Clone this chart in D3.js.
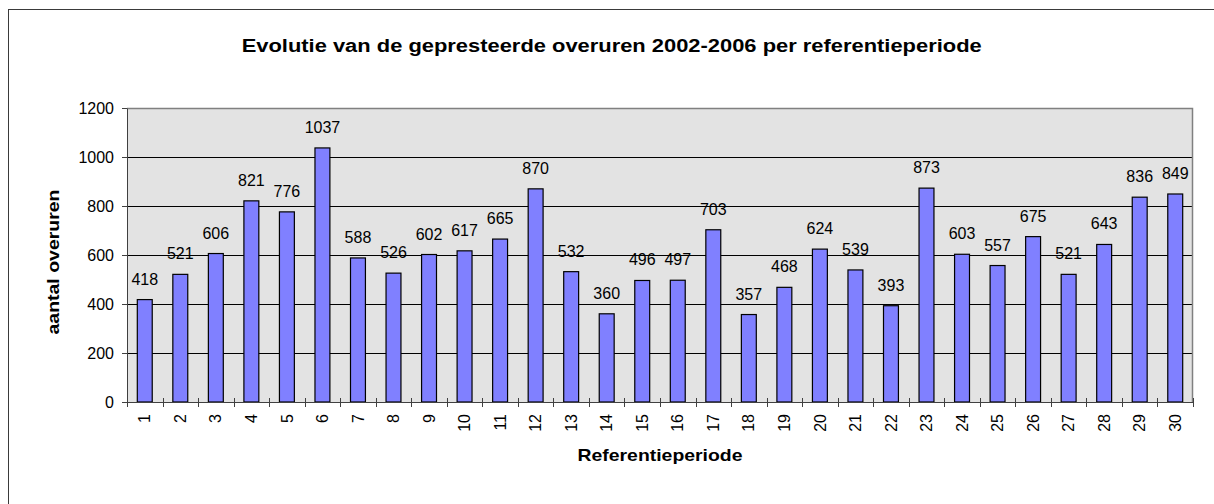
<!DOCTYPE html>
<html>
<head>
<meta charset="utf-8">
<script src="https://cdn.jsdelivr.net/npm/d3@7"></script>
<style>
  html, body { margin: 0; padding: 0; background: #fff; }
  svg { display: block; font-family: "Liberation Sans", Arial, sans-serif; }
</style>
</head>
<body>
<svg id="chart" width="1214" height="504"></svg>
<script>
const categories = ["1","2","3","4","5","6","7","8","9","10","11","12","13","14","15","16","17","18","19","20","21","22","23","24","25","26","27","28","29","30"];
const values = [418,521,606,821,776,1037,588,526,602,617,665,870,532,360,496,497,703,357,468,624,539,393,873,603,557,675,521,643,836,849];
const yTicks = [0,200,400,600,800,1000,1200];
const titleText = "Evolutie van de gepresteerde overuren 2002-2006 per referentieperiode";
const xTitle = "Referentieperiode";
const yTitle = "aantal overuren";

const svg = d3.select("#chart");
const plot = { left: 127, right: 1193, top: 108, bottom: 402 };

// outer frame
svg.append("rect").attr("x", 8.5).attr("y", 9.5).attr("width", 1230).attr("height", 520)
  .attr("fill", "#fff").attr("stroke", "#3a3a3a").attr("stroke-width", 1);

const x = d3.scaleBand().domain(categories).range([plot.left, plot.right]).paddingInner(0.58).paddingOuter(0.29);
const xCat = d3.scaleBand().domain(categories).range([plot.left, plot.right]);
const y = d3.scaleLinear().domain([0, 1200]).range([plot.bottom, plot.top]);

// plot background
svg.append("rect").attr("x", plot.left).attr("y", plot.top)
  .attr("width", plot.right - plot.left).attr("height", plot.bottom - plot.top)
  .attr("fill", "#e3e3e3");

// gridlines
svg.append("g").selectAll("line").data(yTicks.filter(d => d > 0 && d < 1200)).join("line")
  .attr("x1", plot.left).attr("x2", plot.right)
  .attr("y1", d => Math.round(y(d)) + 0.5).attr("y2", d => Math.round(y(d)) + 0.5)
  .attr("stroke", "#000").attr("stroke-width", 1);

// plot border (top/right gray)
svg.append("path")
  .attr("d", `M${plot.left},${plot.top + 0.5}H${plot.right - 0.5}V${plot.bottom}`)
  .attr("fill", "none").attr("stroke", "#808080").attr("stroke-width", 1.5);

// bars
svg.append("g").selectAll("rect").data(values).join("rect")
  .attr("x", (d, i) => x(categories[i]))
  .attr("width", x.bandwidth())
  .attr("y", d => y(d))
  .attr("height", d => plot.bottom - y(d))
  .attr("fill", "#8080ff").attr("stroke", "#000").attr("stroke-width", 1.2);

// value labels
svg.append("g").selectAll("text").data(values).join("text")
  .attr("x", (d, i) => x(categories[i]) + x.bandwidth() / 2)
  .attr("y", d => y(d) - 15)
  .attr("text-anchor", "middle")
  .attr("font-size", 16).attr("fill", "#000")
  .text(d => d);

// y axis
const yAxis = d3.axisLeft(y).tickValues(yTicks).tickFormat(d3.format("d")).tickSize(5).tickPadding(8).tickSizeOuter(0);
const gy = svg.append("g").attr("transform", `translate(${plot.left},0)`).call(yAxis);
gy.select(".domain").attr("stroke", "#404040");
gy.selectAll(".tick line").attr("stroke", "#404040");
gy.selectAll(".tick text").attr("font-size", 16).attr("fill", "#000")
  .attr("font-family", "Liberation Sans, Arial, sans-serif");

// x axis: ticks between categories
const gx = svg.append("g");
gx.append("line").attr("x1", plot.left).attr("x2", plot.right)
  .attr("y1", plot.bottom + 0.5).attr("y2", plot.bottom + 0.5).attr("stroke", "#404040");
gx.selectAll("line.t").data(d3.range(categories.length + 1)).join("line").attr("class", "t")
  .attr("x1", i => Math.round(plot.left + i * xCat.step()) + 0.5)
  .attr("x2", i => Math.round(plot.left + i * xCat.step()) + 0.5)
  .attr("y1", plot.bottom - 4).attr("y2", plot.bottom + 5)
  .attr("stroke", "#404040");
gx.selectAll("text").data(categories).join("text")
  .attr("transform", d => `translate(${xCat(d) + xCat.bandwidth() / 2},${plot.bottom + 12}) rotate(-90)`)
  .attr("text-anchor", "end").attr("dy", "0.35em")
  .attr("font-size", 16).attr("fill", "#000")
  .text(d => d);

// titles
svg.append("text").attr("x", 611.7).attr("y", 52)
  .attr("text-anchor", "middle").attr("font-weight", "bold").attr("font-size", 18)
  .attr("textLength", 740).attr("lengthAdjust", "spacingAndGlyphs")
  .text(titleText);

svg.append("text").attr("x", (plot.left + plot.right) / 2).attr("y", 461)
  .attr("text-anchor", "middle").attr("font-weight", "bold").attr("font-size", 17)
  .attr("textLength", 165).attr("lengthAdjust", "spacingAndGlyphs")
  .text(xTitle);

svg.append("text").attr("transform", `translate(59,262) rotate(-90)`)
  .attr("text-anchor", "middle").attr("font-weight", "bold").attr("font-size", 17)
  .attr("textLength", 145).attr("lengthAdjust", "spacingAndGlyphs")
  .text(yTitle);
</script>
</body>
</html>
